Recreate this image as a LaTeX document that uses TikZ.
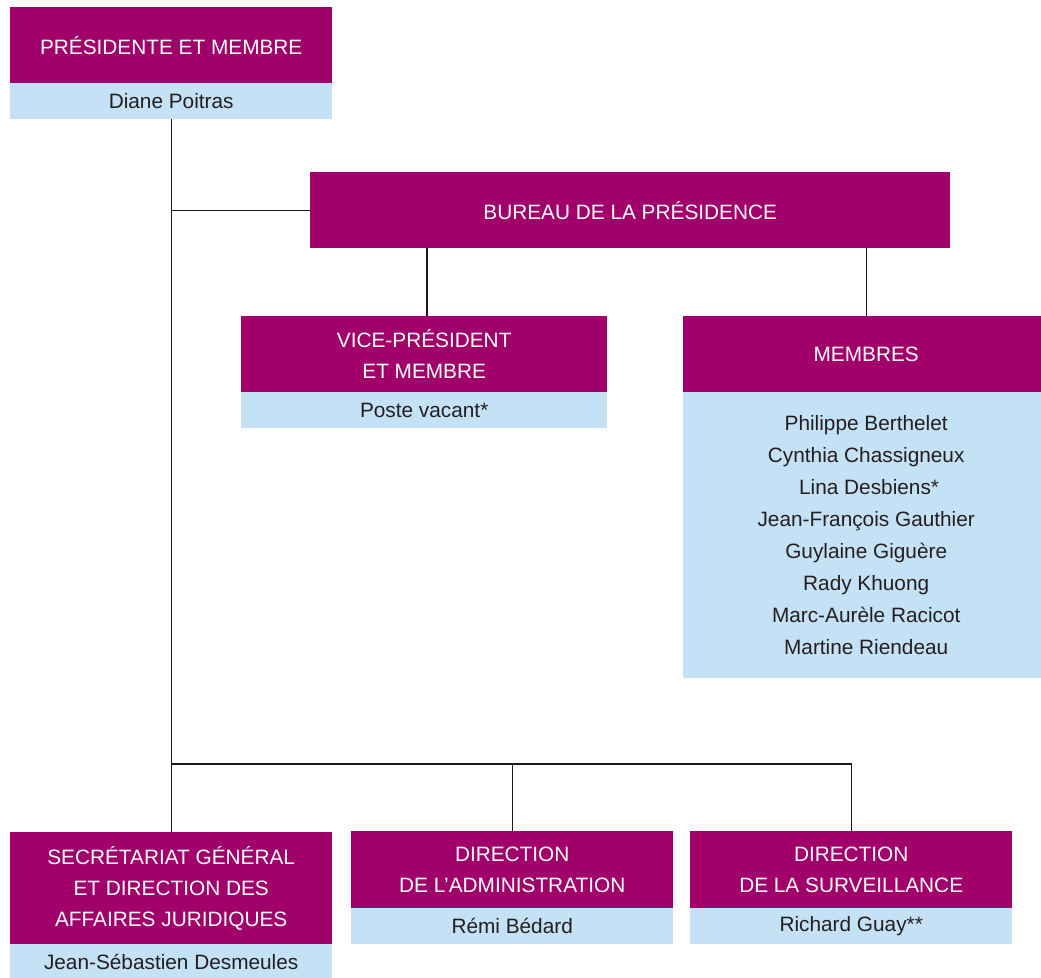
\documentclass[tikz,border=0pt]{standalone}
\usepackage{fontspec}
\setmainfont{Liberation Sans}
\definecolor{purp}{RGB}{161,0,106}
\definecolor{lblue}{RGB}{197,225,245}
\definecolor{txt}{RGB}{35,31,32}
\begin{document}
\begin{tikzpicture}[x=1pt,y=-1pt,
  box/.style={inner sep=0pt, anchor=north west, align=center,
    font=\fontsize{20.8}{31}\selectfont},
  hdr/.style={box, fill=purp, text=white},
  nm/.style={box, fill=lblue, text=txt},
  conn/.style={draw=black!90, line width=1.2pt}]
\useasboundingbox (0,0) rectangle (1041,977);
% top
\node[hdr, minimum width=322, minimum height=76] (pres) at (10,7) {PRÉSIDENTE ET MEMBRE};
\node[nm, minimum width=322, minimum height=36] (presN) at (10,83) {Diane Poitras};
% bureau
\node[hdr, minimum width=640, minimum height=76] (bur) at (310,172) {BUREAU DE LA PRÉSIDENCE};
% vice
\node[hdr, minimum width=366, minimum height=76] (vice) at (241,316) {VICE-PRÉSIDENT\\ET MEMBRE};
\node[nm, minimum width=366, minimum height=36] (viceN) at (241,392) {Poste vacant*};
% membres
\node[hdr, minimum width=366, minimum height=76] (mem) at (683,316) {MEMBRES};
\node[nm, minimum width=366, minimum height=286, font=\fontsize{20.8}{32}\selectfont] (memN) at (683,392)
  {Philippe Berthelet\\Cynthia Chassigneux\\\ Lina Desbiens*\\Jean-François Gauthier\\Guylaine Giguère\\Rady Khuong\\Marc-Aurèle Racicot\\Martine Riendeau};
% bottom row
\node[hdr, minimum width=322, minimum height=112] (sec) at (10,832) {SECRÉTARIAT GÉNÉRAL\\ET DIRECTION DES\\AFFAIRES JURIDIQUES};
\node[nm, minimum width=322, minimum height=36] (secN) at (10,944) {Jean-Sébastien Desmeules};
\node[hdr, minimum width=322, minimum height=77] (adm) at (351,831) {DIRECTION\\DE L’ADMINISTRATION};
\node[nm, minimum width=322, minimum height=36] (admN) at (351,908) {Rémi Bédard};
\node[hdr, minimum width=322, minimum height=77] (sur) at (690,831) {DIRECTION\\DE LA SURVEILLANCE};
\node[nm, minimum width=322, minimum height=36] (surN) at (690,908) {Richard Guay**};
% connectors
\coordinate (bus) at (171,764);
\coordinate (vtop) at (427,316);
\draw[conn] (presN.south) -- (sec.north);
\draw[conn] (presN.south |- bur.west) -- (bur.west);
\draw[conn] (bur.south -| vtop) -- (vtop);
\draw[conn] (bur.south -| mem.north) -- (mem.north);
\draw[conn] (bus) -| (sur.north);
\draw[conn] (adm.north |- bus) -- (adm.north);
\end{tikzpicture}
\end{document}
